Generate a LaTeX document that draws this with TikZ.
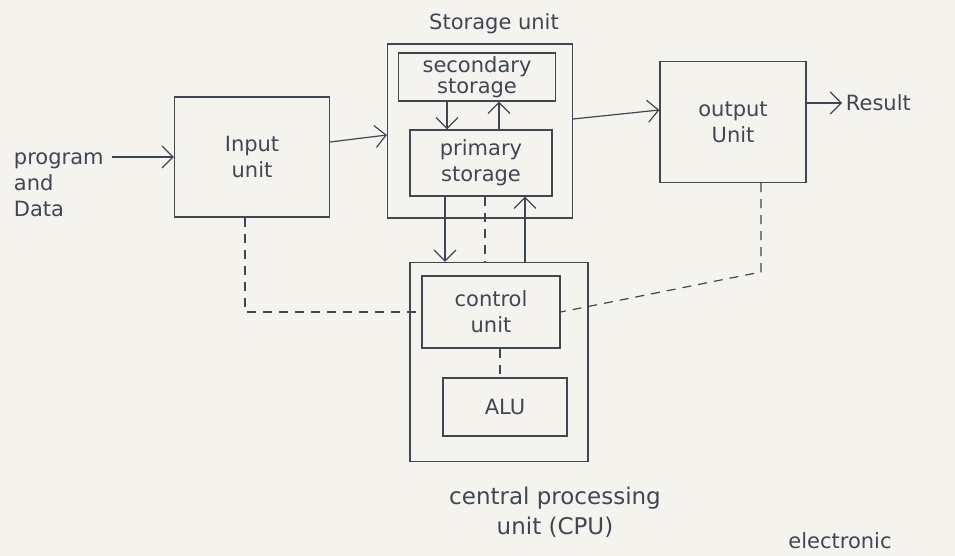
\documentclass[tikz,border=0pt]{standalone}
\usepackage{fontspec}
\setmainfont{DejaVu Sans}
\usepackage{tikz}
\usetikzlibrary{arrows.meta, positioning, calc}
\definecolor{ink}{HTML}{3F4755}
\definecolor{paper}{HTML}{F4F3EE}

\begin{document}
\begin{tikzpicture}[x=1pt, y=-1pt, line width=1.2pt, draw=ink, text=ink,
    font=\fontsize{21}{26}\selectfont,
    box/.style={draw, rectangle, inner sep=0pt, align=center},
    arr/.style={-{Straight Barb[length=11pt,width=22pt]}},
    dashline/.style={dash pattern=on 9pt off 7pt}]
      \fill[paper] (0,0) rectangle (955,556);
      \useasboundingbox (0,0) rectangle (955,556);

      % units
      \node[box, minimum width=155pt, minimum height=120pt] (input) at (252,157) {Input\\unit};
      \node[box, minimum width=185pt, minimum height=174pt] (store) at (480,131) {};
      \node[box, minimum width=157pt, minimum height=48pt] (sec) at (477,77) {secondary\\[-5pt]storage};
      \node[box, minimum width=142pt, minimum height=66pt] (prim) at (481,163) {primary\\storage};
      \node[box, minimum width=146pt, minimum height=121pt] (output) at (733,122) {output\\Unit};
      \node[box, minimum width=178pt, minimum height=199pt] (cpu) at (499,362) {};
      \node[box, minimum width=138pt, minimum height=72pt] (control) at (491,312) {control\\unit};
      \node[box, minimum width=124pt, minimum height=58pt] (alu) at (505,407) {ALU};

      % labels
      \node (storelbl) at (494,24) {Storage unit};
      \node[align=left, anchor=west] (prog) at (10,185) {program\\and\\Data};
      \node[anchor=west] (result) at (842,103) {Result};
      \node[align=center, font=\fontsize{23}{30}\selectfont] (cpulbl) at (555,512) {central processing\\unit (CPU)};
      \node[anchor=base, inner sep=0pt] (elec) at (840,548) {electronic};

      % data flow
      \draw[arr] ([xshift=4pt]prog.east |- input.west) -- (input.west);
      \draw[arr] ([yshift=15pt]input.east) -- ([yshift=-4pt]store.west);
      \draw[arr] ([yshift=12pt]store.east) -- ([yshift=12pt]output.west);
      \draw[arr] (output.east |- result.west) -- (result.west);
      \draw[arr] ([xshift=-30pt]sec.south) -- ([xshift=-30pt]sec.south |- prim.north);
      \draw[arr] ([xshift=18pt]prim.north) -- ([xshift=18pt]prim.north |- sec.south);
      \draw[arr] ([xshift=-36pt]prim.south) -- ([xshift=-36pt]prim.south |- cpu.north);
      \draw[arr] ([xshift=44pt]prim.south |- cpu.north) -- ([xshift=44pt]prim.south);

      % control signals
      \draw[dashline] ([xshift=4pt]prim.south) -- ([xshift=4pt]prim.south |- cpu.north);
      \draw[dashline] ([xshift=9pt]control.south) -- ([xshift=9pt]control.south |- alu.north);
      \draw[dashline] ([xshift=-7pt]input.south) -- ([xshift=-7pt]input.south |- control.west) -- (control.west);
      \coordinate (oc) at ([xshift=28pt]output.south |- 0,272);
      \draw[dashline] ([xshift=28pt]output.south) -- (oc) -- (control.east);
    \end{tikzpicture}
\end{document}
